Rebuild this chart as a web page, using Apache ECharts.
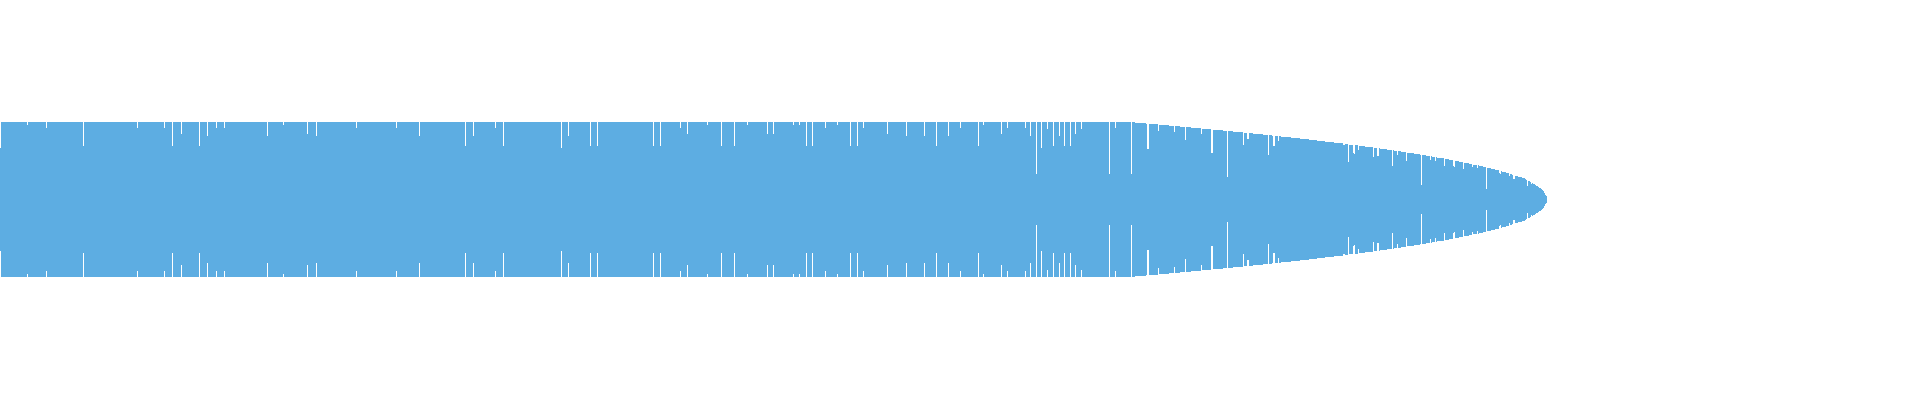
<!DOCTYPE html>
<html>
<head>
<meta charset="utf-8">
<script src="https://cdn.jsdelivr.net/npm/echarts@6/dist/echarts.min.js"></script>
<style>
html,body{margin:0;padding:0;background:#ffffff;}
#chart{width:1920px;height:400px;}
</style>
</head>
<body>
<div id="chart"></div>
<script>
// Full bar heights (symmetric around the centre line), one bar per column.
const heightsPart1 = [
103,155,155,155,155, 155,155,155,155,155, 155,155,155,155,155, 155,155,155,155,155,
155,155,155,155,155, 155,155,149,155,155, 155,155,155,155,155, 155,155,155,155,155,
155,155,155,155,155, 155,143,155,155,155, 155,155,155,155,155, 155,155,155,155,155,
155,155,155,155,155, 155,155,155,155,155, 155,155,155,155,155, 155,155,155,155,155,
155,155,155,107,155, 155,155,155,155,155, 155,155,155,155,155, 155,155,155,155,155,
155,155,155,155,155, 155,155,155,155,155, 155,155,155,155,155, 155,155,155,155,155,
155,155,155,155,155, 155,155,155,155,155, 155,155,155,155,155, 155,155,143,155,155,
155,155,155,155,155, 155,155,155,155,155, 155,155,155,155,155, 155,155,155,155,155,
155,155,155,155,143, 155,155,155,155,155, 155,155,107,155,155, 155,155,155,155,155,
155,131,155,155,155, 155,155,155,155,155, 155,155,155,155,155, 155,155,155,155,107,
155,155,155,155,155, 155,155,127,155,155, 155,155,155,155,155, 155,143,155,155,155,
155,155,155,155,143, 155,155,155,155,155, 155,155,155,155,155, 155,155,155,155,155,
155,155,155,155,155, 155,155,155,155,155, 155,155,155,155,155, 155,155,155,155,155,
155,155,155,155,155, 155,155,127,155,155, 155,155,155,155,155, 155,155,155,155,155,
155,155,155,149,155, 155,155,155,155,155, 155,155,155,155,155, 155,155,155,155,155,
155,155,155,155,155, 155,155,131,155,155, 155,155,155,155,155, 155,127,155,155,155,
155,155,155,155,155, 155,155,155,155,155, 155,155,155,155,155, 155,155,155,155,155,
155,155,155,155,155, 155,155,155,155,155, 155,155,155,155,155, 155,143,155,155,155,
155,155,155,155,155, 155,155,155,155,155, 155,155,155,155,155, 155,155,155,155,155,
155,155,155,155,155, 155,155,155,155,155, 155,155,155,155,155, 155,143,155,155,155
];
const heightsPart2 = [
155,155,155,155,155, 155,155,155,155,155, 155,155,155,155,155, 155,155,155,155,127,
155,155,155,155,155, 155,155,155,155,155, 155,155,155,155,155, 155,155,155,155,155,
155,155,155,155,155, 155,155,155,155,155, 155,155,155,155,155, 155,155,155,155,155,
155,155,155,155,155, 107,155,155,155,155, 155,155,155,127,155, 155,155,155,155,155,
155,155,155,155,155, 155,155,155,155,155, 155,155,155,155,155, 143,155,155,155,155,
155,155,155,107,155, 155,155,155,155,155, 155,155,155,155,155, 155,155,155,155,155,
155,155,155,155,155, 155,155,155,155,155, 155,155,155,155,155, 155,155,155,155,155,
155,155,155,155,155, 155,155,155,155,155, 155,155,155,155,155, 155,155,155,155,155,
155,103,155,155,155, 155,155,155,127,155, 155,155,155,155,155, 155,155,155,155,155,
155,155,155,155,155, 155,155,155,155,155, 107,155,155,155,155, 155,155,107,155,155,
155,155,155,155,155, 155,155,155,155,155, 155,155,155,155,155, 155,155,155,155,155,
155,155,155,155,155, 155,155,155,155,155, 155,155,155,155,155, 155,155,155,155,155,
155,155,155,155,155, 155,155,155,155,155, 155,155,155,107,155, 155,155,155,155,155,
107,155,155,155,155, 155,155,155,155,155, 155,155,155,155,155, 155,155,155,155,155,
143,155,155,155,155, 155,155,131,155,155, 155,155,155,155,155, 155,155,155,155,155,
155,155,155,155,155, 155,155,149,155,155, 155,155,155,155,155, 155,155,155,155,155,
155,107,155,155,155, 155,155,155,155,155, 155,155,155,155,107, 155,155,155,155,155,
155,155,155,155,155, 155,155,149,155,155, 155,155,155,155,155, 155,155,155,155,155,
155,155,155,155,155, 155,155,131,155,155, 155,155,155,131,155, 155,155,155,155,155,
155,155,155,155,155, 155,155,155,155,155, 155,155,155,149,155, 155,155,155,155,149
];
const heightsPart3 = [
155,155,155,155,155, 155,107,155,155,155, 155,155,107,155,155, 155,155,155,155,155,
155,155,155,155,155, 143,155,155,155,155, 155,155,155,155,155, 155,155,149,155,155,
155,155,155,155,155, 155,155,155,155,155, 107,155,155,155,155, 155,155,107,155,155,
155,155,155,143,155, 155,155,155,155,155, 155,155,155,155,155, 155,155,155,155,155,
155,155,155,155,155, 155,155,131,155,155, 155,155,155,155,155, 155,155,155,155,155,
155,155,155,155,155, 155,127,155,155,155, 155,155,155,155,155, 155,155,155,155,155,
155,155,155,155,127, 155,155,155,155,155, 155,155,155,155,155, 155,107,155,155,155,
155,155,155,155,155, 155,155,155,127,155, 155,155,155,155,155, 155,155,155,155,155,
143,155,155,155,155, 155,155,155,155,155, 155,155,155,155,155, 155,155,155,107,155,
155,155,155,149,155, 155,155,155,155,155, 155,155,155,155,155, 155,155,155,155,155,
155,131,155,155,155, 155,155,143,155,155, 155,155,155,155,155, 155,155,155,155,155,
155,155,155,155,155, 143,155,155,155,155, 127,155,155,155,155, 155,51,155,155,155,
155,103,155,155,155, 155,155,141,155,155, 155,155,155,107,155, 155,155,155,155,127,
155,155,155,155,107, 155,155,155,155,155, 107,155,155,155,155, 131,155,155,155,155,
155,141,155,155,155, 155,155,155,155,155, 155,155,155,155,155, 155,155,155,155,155,
155,155,155,155,155, 155,155,155,155,51, 155,155,155,155,155, 143,155,155,155,155,
155,155,155,155,155, 155,155,155,155,155, 155,51,155,155,155, 153,153,153,153,153
];
const heightsPart4 = [
153,153,153,153,153, 153,151,101,101,151, 151,151,151,151,151, 151,151,151,137,149,
149,149,149,149,149, 149,149,149,149,147, 147,147,147,147,135, 147,147,147,147,147,
145,145,145,145,145, 119,145,145,145,145, 145,143,143,143,143, 143,143,143,143,143,
143,131,141,141,141, 141,141,141,141,141, 141,93,93,139,139, 139,139,139,139,139,
139,139,139,137,137, 137,137,45,137,137, 137,137,137,135,135, 135,135,135,135,135,
135,135,135,109,133, 133,133,121,121,133, 133,133,133,131,131, 131,131,131,131,131,
131,131,131,129,129, 129,129,129,89,129, 129,129,127,107,107, 127,127,127,117,127,
127,125,125,125,125, 125,125,125,125,125, 125,123,123,123,123, 123,123,123,123,123,
121,121,121,121,121, 121,121,121,121,119, 119,119,119,119,119, 119,119,117,117,117,
117,117,117,117,117, 115,115,115,115,115, 115,115,115,115,113, 113,113,113,113,113,
113,113,113,109,109, 111,111,111,75,109, 109,109,109,93,91, 109,109,109,99,107,
107,107,107,107,107, 105,105,105,105,105, 105,105,105,85,103, 103,103,87,87,103,
101,101,101,101,101, 101,101,99,99,99, 99,99,67,99,97, 97,97,89,97,97,
97,95,95,95,95, 95,77,93,93,93, 93,93,93,93,91, 91,91,91,91,91,
89,29,89,89,89, 89,87,87,87,87, 79,87,85,85,85, 77,85,83,83,83,
83,83,83,83,67, 81,81,81,81,79, 79,79,79,67,65, 77,77,77,77,75,
75,75,75,61,73, 73,73,73,73,71, 71,71,65,69,69, 69,69,63,69,67,
67,67,67,65,65, 65,21,63,63,63, 63,61,61,61,61, 59,59,59,59,53,
51,57,55,55,55, 55,53,53,53,47, 51,51,49,41,41, 47,47,47,45,45,
45,45,43,43,43, 41,39,27,37,37, 35,31,33,31,31, 29,27,27,25,23,
23,21,19,17,13,9,7
];

const barHeights = heightsPart1.concat(heightsPart2, heightsPart3, heightsPart4);

// One category per screen column across the plot width.
const categoryCount = 1920;
const categories = [];
for (let i = 0; i < categoryCount; i++) categories.push(String(i));

// Each bar is drawn as one piece from -h/2 to +h/2: an invisible base down to -h/2,
// then the visible bar of height h stacked on it.
const baseOffsets = barHeights.map(function (h) { return -h / 2; });

const chart = echarts.init(document.getElementById('chart'), null, { renderer: 'canvas' });
chart.setOption({
  animation: false,
  backgroundColor: '#ffffff',
  grid: { left: 0, right: 0, top: 119.5, height: 160, containLabel: false },
  xAxis: {
    type: 'category',
    data: categories,
    show: false,
    boundaryGap: true
  },
  yAxis: {
    type: 'value',
    min: -80,
    max: 80,
    show: false
  },
  tooltip: { show: false },
  series: [
    {
      type: 'bar',
      stack: 'wave',
      stackStrategy: 'all',
      data: baseOffsets,
      barCategoryGap: '0%',
      itemStyle: { color: 'rgba(0,0,0,0)' },
      silent: true
    },
    {
      type: 'bar',
      stack: 'wave',
      stackStrategy: 'all',
      data: barHeights,
      barCategoryGap: '0%',
      itemStyle: { color: '#5dade2' },
      silent: true
    }
  ]
});
</script>
</body>
</html>
